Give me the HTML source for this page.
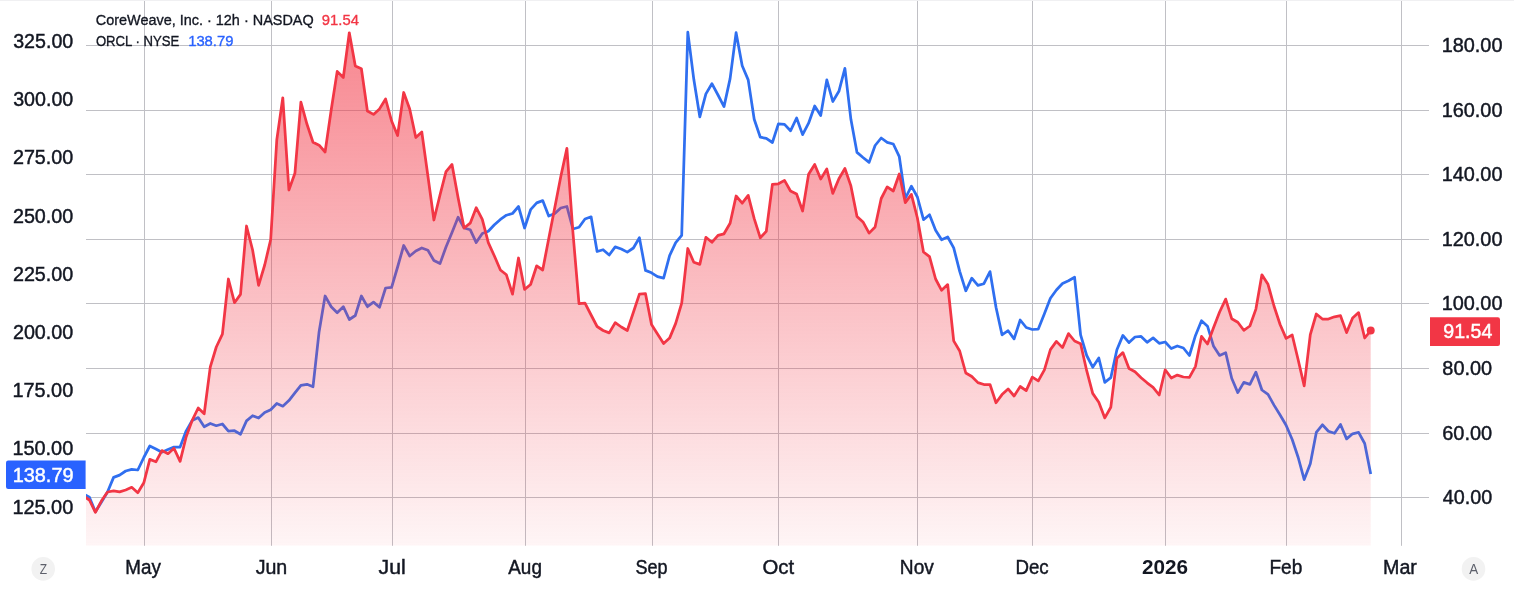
<!DOCTYPE html>
<html><head><meta charset="utf-8"><style>
html,body{margin:0;padding:0;background:#fff;}
body{width:1514px;height:589px;overflow:hidden;position:relative;font-family:"Liberation Sans",sans-serif;}
svg{position:absolute;left:0;top:0;will-change:transform;}
.ax{font-family:"Liberation Sans",sans-serif;font-size:20px;fill:#131722;stroke:#131722;stroke-width:0.45px;}
.lg{font-family:"Liberation Sans",sans-serif;font-size:15.4px;fill:#131722;stroke:#131722;stroke-width:0.35px;}
.b{font-weight:bold;stroke-width:0px;}
.bt{font-family:"Liberation Sans",sans-serif;font-size:14px;fill:#5d606b;}
</style></head><body>
<svg width="1514" height="589" viewBox="0 0 1514 589">
<defs>
<linearGradient id="fg" x1="0" y1="32" x2="0" y2="545.8" gradientUnits="userSpaceOnUse">
<stop offset="0" stop-color="#f23645" stop-opacity="0.6"/>
<stop offset="1" stop-color="#f23645" stop-opacity="0.05"/>
</linearGradient>
<clipPath id="cp"><rect x="86" y="1" width="1343" height="544.8"/></clipPath>
</defs>
<rect x="0" y="0" width="1514" height="1" fill="#f0f0f2"/>
<g stroke="#c0c0c5" stroke-width="1" fill="none"><line x1="86" y1="45.5" x2="1429" y2="45.5"/><line x1="86" y1="110.5" x2="1429" y2="110.5"/><line x1="86" y1="174.5" x2="1429" y2="174.5"/><line x1="86" y1="239.5" x2="1429" y2="239.5"/><line x1="86" y1="303.5" x2="1429" y2="303.5"/><line x1="86" y1="368.5" x2="1429" y2="368.5"/><line x1="86" y1="433.5" x2="1429" y2="433.5"/><line x1="86" y1="497.5" x2="1429" y2="497.5"/><line x1="144.5" y1="1" x2="144.5" y2="545.8"/><line x1="271.5" y1="1" x2="271.5" y2="545.8"/><line x1="392.5" y1="1" x2="392.5" y2="545.8"/><line x1="525.5" y1="1" x2="525.5" y2="545.8"/><line x1="652.5" y1="1" x2="652.5" y2="545.8"/><line x1="778.5" y1="1" x2="778.5" y2="545.8"/><line x1="917.5" y1="1" x2="917.5" y2="545.8"/><line x1="1032.5" y1="1" x2="1032.5" y2="545.8"/><line x1="1165.5" y1="1" x2="1165.5" y2="545.8"/><line x1="1286.5" y1="1" x2="1286.5" y2="545.8"/><line x1="1401.5" y1="1" x2="1401.5" y2="545.8"/></g>
<g clip-path="url(#cp)">
<path d="M83.4,494.0 L89.4,497.3 L95.4,511.8 L101.5,502.0 L107.5,492.0 L113.6,477.4 L119.6,475.1 L125.7,471.0 L131.7,469.4 L137.8,470.0 L143.8,457.5 L149.8,446.0 L155.9,449.0 L161.9,452.2 L168.0,449.6 L174.0,447.1 L180.1,447.1 L186.1,431.1 L192.2,420.4 L198.2,417.6 L204.2,426.8 L210.3,423.5 L216.3,425.7 L222.4,424.0 L228.4,431.1 L234.5,430.7 L240.5,434.2 L246.5,420.9 L252.6,415.7 L258.6,418.0 L264.7,412.5 L270.7,409.7 L276.8,403.5 L282.8,406.2 L288.9,400.6 L294.9,392.9 L300.9,385.3 L307.0,384.3 L313.0,386.8 L319.1,331.7 L325.1,296.0 L331.2,306.7 L337.2,312.8 L343.3,306.7 L349.3,319.5 L355.3,315.5 L361.4,296.0 L367.4,306.7 L373.5,302.1 L379.5,307.3 L385.6,288.0 L391.6,287.4 L397.6,267.0 L403.7,245.5 L409.7,256.0 L415.8,251.0 L421.8,248.0 L427.9,250.3 L433.9,260.5 L440.0,263.6 L446.0,247.0 L452.0,232.5 L458.1,217.2 L464.1,228.0 L470.2,229.7 L476.2,242.6 L482.3,233.5 L488.3,231.3 L494.4,224.8 L500.4,219.4 L506.4,215.2 L512.5,213.5 L518.5,206.5 L524.6,228.0 L530.6,209.7 L536.7,202.9 L542.7,200.6 L548.7,216.1 L554.8,213.5 L560.8,208.0 L566.9,206.5 L572.9,229.0 L579.0,227.2 L585.0,219.0 L591.1,216.8 L597.1,251.5 L603.1,249.7 L609.2,255.0 L615.2,246.9 L621.3,249.0 L627.3,252.1 L633.4,248.0 L639.4,237.8 L645.5,270.4 L651.5,272.8 L657.5,276.6 L663.6,278.2 L669.6,255.6 L675.7,242.6 L681.7,235.4 L687.8,32.2 L693.8,79.3 L699.8,116.8 L705.9,93.9 L711.9,83.7 L718.0,95.0 L724.0,106.6 L730.1,78.6 L736.1,32.7 L742.2,65.8 L748.2,79.9 L754.2,119.3 L760.3,137.2 L766.3,138.4 L772.4,142.5 L778.4,123.9 L784.5,124.4 L790.5,130.8 L796.6,118.0 L802.6,134.6 L808.6,123.2 L814.7,106.0 L820.7,115.5 L826.8,79.9 L832.8,101.5 L838.9,91.3 L844.9,68.4 L850.9,119.3 L857.0,152.4 L863.0,157.5 L869.1,162.4 L875.1,145.5 L881.2,138.0 L887.2,142.4 L893.3,144.0 L899.3,156.7 L905.3,198.5 L911.4,186.2 L917.4,197.0 L923.5,219.7 L929.5,214.7 L935.6,230.3 L941.6,239.8 L947.7,237.0 L953.7,247.9 L959.7,271.3 L965.8,290.8 L971.8,278.2 L977.9,285.4 L983.9,283.7 L990.0,271.6 L996.0,307.3 L1002.0,334.8 L1008.1,330.7 L1014.1,338.9 L1020.2,320.0 L1026.2,327.5 L1032.3,329.5 L1038.3,329.1 L1044.4,313.8 L1050.4,298.2 L1056.4,290.0 L1062.5,283.5 L1068.5,280.8 L1074.6,277.3 L1080.6,334.8 L1086.7,355.5 L1092.7,367.2 L1098.8,358.0 L1104.8,382.4 L1110.8,377.7 L1116.9,349.8 L1122.9,335.4 L1129.0,342.6 L1135.0,337.0 L1141.1,336.4 L1147.1,342.3 L1153.1,337.9 L1159.2,343.3 L1165.2,342.0 L1171.3,348.6 L1177.3,346.0 L1183.4,348.0 L1189.4,355.5 L1195.5,335.4 L1201.5,320.7 L1207.5,326.2 L1213.6,346.3 L1219.6,355.4 L1225.7,352.7 L1231.7,378.3 L1237.8,392.6 L1243.8,382.4 L1249.9,384.4 L1255.9,372.2 L1261.9,390.0 L1268.0,394.4 L1274.0,405.1 L1280.1,415.0 L1286.1,425.2 L1292.2,439.5 L1298.2,457.5 L1304.2,479.6 L1310.3,463.8 L1316.3,432.4 L1322.4,424.8 L1328.4,431.2 L1334.5,433.3 L1340.5,424.5 L1346.6,438.9 L1352.6,433.8 L1358.6,432.4 L1364.7,443.5 L1370.7,474.0" fill="none" stroke="#2f6ff0" stroke-width="2.75" stroke-linejoin="round"/>
<path d="M83.4,496.0 L89.4,500.0 L95.4,512.3 L101.5,500.8 L107.5,492.0 L113.6,490.9 L119.6,491.9 L125.7,490.0 L131.7,487.3 L137.8,492.7 L143.8,482.8 L149.8,459.4 L155.9,461.8 L161.9,450.6 L168.0,453.7 L174.0,448.3 L180.1,461.3 L186.1,437.0 L192.2,420.4 L198.2,408.0 L204.2,413.8 L210.3,366.9 L216.3,347.0 L222.4,334.2 L228.4,279.0 L234.5,302.7 L240.5,294.4 L246.5,226.0 L252.6,250.0 L258.6,285.3 L264.7,265.0 L270.7,239.5 L276.8,139.8 L282.8,97.8 L288.9,190.0 L294.9,173.3 L300.9,102.2 L307.0,124.3 L313.0,142.3 L319.1,145.2 L325.1,152.0 L331.2,110.0 L337.2,71.4 L343.3,77.5 L349.3,32.8 L355.3,66.0 L361.4,68.7 L367.4,111.0 L373.5,114.4 L379.5,108.9 L385.6,99.0 L391.6,121.0 L397.6,135.5 L403.7,92.5 L409.7,109.0 L415.8,137.5 L421.8,132.0 L427.9,176.0 L433.9,220.0 L440.0,195.0 L446.0,171.6 L452.0,164.5 L458.1,197.7 L464.1,228.0 L470.2,223.2 L476.2,207.7 L482.3,219.4 L488.3,242.6 L494.4,256.0 L500.4,270.0 L506.4,274.8 L512.5,294.2 L518.5,258.0 L524.6,289.4 L530.6,284.5 L536.7,265.8 L542.7,270.0 L548.7,238.7 L554.8,207.6 L560.8,176.5 L566.9,148.4 L572.9,232.0 L579.0,303.6 L585.0,303.2 L591.1,315.0 L597.1,326.5 L603.1,330.5 L609.2,332.9 L615.2,322.7 L621.3,327.0 L627.3,330.5 L633.4,312.2 L639.4,294.1 L645.5,293.7 L651.5,324.6 L657.5,334.0 L663.6,343.6 L669.6,338.1 L675.7,323.4 L681.7,303.2 L687.8,248.5 L693.8,262.3 L699.8,264.4 L705.9,237.3 L711.9,242.3 L718.0,235.4 L724.0,233.8 L730.1,223.2 L736.1,196.0 L742.2,203.2 L748.2,195.4 L754.2,218.7 L760.3,237.8 L766.3,231.3 L772.4,184.4 L778.4,183.8 L784.5,180.4 L790.5,191.0 L796.6,194.0 L802.6,211.0 L808.6,174.2 L814.7,164.5 L820.7,179.1 L826.8,169.0 L832.8,193.4 L838.9,178.7 L844.9,168.5 L850.9,185.9 L857.0,216.4 L863.0,221.9 L869.1,233.1 L875.1,227.0 L881.2,198.5 L887.2,186.9 L893.3,191.0 L899.3,174.0 L905.3,202.6 L911.4,194.4 L917.4,218.0 L923.5,252.0 L929.5,256.7 L935.6,279.0 L941.6,290.3 L947.7,284.6 L953.7,340.9 L959.7,351.0 L965.8,373.0 L971.8,376.5 L977.9,382.6 L983.9,384.5 L990.0,384.5 L996.0,402.8 L1002.0,394.6 L1008.1,388.9 L1014.1,396.0 L1020.2,386.5 L1026.2,390.6 L1032.3,377.1 L1038.3,380.9 L1044.4,369.8 L1050.4,349.6 L1056.4,341.4 L1062.5,347.6 L1068.5,333.6 L1074.6,341.0 L1080.6,343.7 L1086.7,370.7 L1092.7,393.4 L1098.8,402.2 L1104.8,417.9 L1110.8,407.3 L1116.9,358.3 L1122.9,352.6 L1129.0,368.5 L1135.0,371.7 L1141.1,377.7 L1147.1,382.8 L1153.1,387.3 L1159.2,395.0 L1165.2,369.8 L1171.3,378.0 L1177.3,375.1 L1183.4,377.0 L1189.4,377.3 L1195.5,366.3 L1201.5,336.4 L1207.5,344.0 L1213.6,327.5 L1219.6,312.0 L1225.7,299.1 L1231.7,318.7 L1237.8,322.2 L1243.8,330.3 L1249.9,326.0 L1255.9,309.1 L1261.9,274.8 L1268.0,284.3 L1274.0,306.0 L1280.1,324.5 L1286.1,338.4 L1292.2,335.0 L1298.2,360.0 L1304.2,385.9 L1310.3,334.7 L1316.3,314.0 L1322.4,319.0 L1328.4,319.0 L1334.5,316.8 L1340.5,315.7 L1346.6,332.6 L1352.6,318.0 L1358.6,312.6 L1364.7,338.0 L1370.7,330.6 L1370.7,545.8 L83.4,545.8 Z" fill="url(#fg)" stroke="none"/>
<path d="M83.4,496.0 L89.4,500.0 L95.4,512.3 L101.5,500.8 L107.5,492.0 L113.6,490.9 L119.6,491.9 L125.7,490.0 L131.7,487.3 L137.8,492.7 L143.8,482.8 L149.8,459.4 L155.9,461.8 L161.9,450.6 L168.0,453.7 L174.0,448.3 L180.1,461.3 L186.1,437.0 L192.2,420.4 L198.2,408.0 L204.2,413.8 L210.3,366.9 L216.3,347.0 L222.4,334.2 L228.4,279.0 L234.5,302.7 L240.5,294.4 L246.5,226.0 L252.6,250.0 L258.6,285.3 L264.7,265.0 L270.7,239.5 L276.8,139.8 L282.8,97.8 L288.9,190.0 L294.9,173.3 L300.9,102.2 L307.0,124.3 L313.0,142.3 L319.1,145.2 L325.1,152.0 L331.2,110.0 L337.2,71.4 L343.3,77.5 L349.3,32.8 L355.3,66.0 L361.4,68.7 L367.4,111.0 L373.5,114.4 L379.5,108.9 L385.6,99.0 L391.6,121.0 L397.6,135.5 L403.7,92.5 L409.7,109.0 L415.8,137.5 L421.8,132.0 L427.9,176.0 L433.9,220.0 L440.0,195.0 L446.0,171.6 L452.0,164.5 L458.1,197.7 L464.1,228.0 L470.2,223.2 L476.2,207.7 L482.3,219.4 L488.3,242.6 L494.4,256.0 L500.4,270.0 L506.4,274.8 L512.5,294.2 L518.5,258.0 L524.6,289.4 L530.6,284.5 L536.7,265.8 L542.7,270.0 L548.7,238.7 L554.8,207.6 L560.8,176.5 L566.9,148.4 L572.9,232.0 L579.0,303.6 L585.0,303.2 L591.1,315.0 L597.1,326.5 L603.1,330.5 L609.2,332.9 L615.2,322.7 L621.3,327.0 L627.3,330.5 L633.4,312.2 L639.4,294.1 L645.5,293.7 L651.5,324.6 L657.5,334.0 L663.6,343.6 L669.6,338.1 L675.7,323.4 L681.7,303.2 L687.8,248.5 L693.8,262.3 L699.8,264.4 L705.9,237.3 L711.9,242.3 L718.0,235.4 L724.0,233.8 L730.1,223.2 L736.1,196.0 L742.2,203.2 L748.2,195.4 L754.2,218.7 L760.3,237.8 L766.3,231.3 L772.4,184.4 L778.4,183.8 L784.5,180.4 L790.5,191.0 L796.6,194.0 L802.6,211.0 L808.6,174.2 L814.7,164.5 L820.7,179.1 L826.8,169.0 L832.8,193.4 L838.9,178.7 L844.9,168.5 L850.9,185.9 L857.0,216.4 L863.0,221.9 L869.1,233.1 L875.1,227.0 L881.2,198.5 L887.2,186.9 L893.3,191.0 L899.3,174.0 L905.3,202.6 L911.4,194.4 L917.4,218.0 L923.5,252.0 L929.5,256.7 L935.6,279.0 L941.6,290.3 L947.7,284.6 L953.7,340.9 L959.7,351.0 L965.8,373.0 L971.8,376.5 L977.9,382.6 L983.9,384.5 L990.0,384.5 L996.0,402.8 L1002.0,394.6 L1008.1,388.9 L1014.1,396.0 L1020.2,386.5 L1026.2,390.6 L1032.3,377.1 L1038.3,380.9 L1044.4,369.8 L1050.4,349.6 L1056.4,341.4 L1062.5,347.6 L1068.5,333.6 L1074.6,341.0 L1080.6,343.7 L1086.7,370.7 L1092.7,393.4 L1098.8,402.2 L1104.8,417.9 L1110.8,407.3 L1116.9,358.3 L1122.9,352.6 L1129.0,368.5 L1135.0,371.7 L1141.1,377.7 L1147.1,382.8 L1153.1,387.3 L1159.2,395.0 L1165.2,369.8 L1171.3,378.0 L1177.3,375.1 L1183.4,377.0 L1189.4,377.3 L1195.5,366.3 L1201.5,336.4 L1207.5,344.0 L1213.6,327.5 L1219.6,312.0 L1225.7,299.1 L1231.7,318.7 L1237.8,322.2 L1243.8,330.3 L1249.9,326.0 L1255.9,309.1 L1261.9,274.8 L1268.0,284.3 L1274.0,306.0 L1280.1,324.5 L1286.1,338.4 L1292.2,335.0 L1298.2,360.0 L1304.2,385.9 L1310.3,334.7 L1316.3,314.0 L1322.4,319.0 L1328.4,319.0 L1334.5,316.8 L1340.5,315.7 L1346.6,332.6 L1352.6,318.0 L1358.6,312.6 L1364.7,338.0 L1370.7,330.6" fill="none" stroke="#f23645" stroke-width="2.75" stroke-linejoin="round"/>
<circle cx="1370.7" cy="330.6" r="4" fill="#f23645"/>
</g>
<text x="13.15" y="47.93" textLength="60.12" lengthAdjust="spacingAndGlyphs" class="ax">325.00</text><text x="13.15" y="106.13" textLength="60.12" lengthAdjust="spacingAndGlyphs" class="ax">300.00</text><text x="12.91" y="164.33" textLength="60.36" lengthAdjust="spacingAndGlyphs" class="ax">275.00</text><text x="12.91" y="222.53" textLength="60.36" lengthAdjust="spacingAndGlyphs" class="ax">250.00</text><text x="12.91" y="280.73" textLength="60.36" lengthAdjust="spacingAndGlyphs" class="ax">225.00</text><text x="12.91" y="338.93" textLength="60.36" lengthAdjust="spacingAndGlyphs" class="ax">200.00</text><text x="12.38" y="397.13" textLength="60.89" lengthAdjust="spacingAndGlyphs" class="ax">175.00</text><text x="12.38" y="455.33" textLength="60.89" lengthAdjust="spacingAndGlyphs" class="ax">150.00</text><text x="12.38" y="513.53" textLength="60.89" lengthAdjust="spacingAndGlyphs" class="ax">125.00</text><text x="1441.69" y="51.98" textLength="60.79" lengthAdjust="spacingAndGlyphs" class="ax">180.00</text><text x="1441.69" y="116.98" textLength="60.79" lengthAdjust="spacingAndGlyphs" class="ax">160.00</text><text x="1441.69" y="180.98" textLength="60.79" lengthAdjust="spacingAndGlyphs" class="ax">140.00</text><text x="1441.69" y="245.98" textLength="60.79" lengthAdjust="spacingAndGlyphs" class="ax">120.00</text><text x="1441.69" y="309.98" textLength="60.79" lengthAdjust="spacingAndGlyphs" class="ax">100.00</text><text x="1442.33" y="374.98" textLength="49.84" lengthAdjust="spacingAndGlyphs" class="ax">80.00</text><text x="1442.19" y="439.98" textLength="49.99" lengthAdjust="spacingAndGlyphs" class="ax">60.00</text><text x="1442.75" y="503.98" textLength="49.42" lengthAdjust="spacingAndGlyphs" class="ax">40.00</text><text x="125.35" y="574.20" textLength="35.58" lengthAdjust="spacingAndGlyphs" class="ax">May</text><text x="255.69" y="574.20" textLength="31.58" lengthAdjust="spacingAndGlyphs" class="ax">Jun</text><text x="378.57" y="574.20" textLength="27.15" lengthAdjust="spacingAndGlyphs" class="ax">Jul</text><text x="508.26" y="574.20" textLength="33.66" lengthAdjust="spacingAndGlyphs" class="ax">Aug</text><text x="635.38" y="574.20" textLength="32.08" lengthAdjust="spacingAndGlyphs" class="ax">Sep</text><text x="762.44" y="574.20" textLength="31.61" lengthAdjust="spacingAndGlyphs" class="ax">Oct</text><text x="899.83" y="574.20" textLength="34.04" lengthAdjust="spacingAndGlyphs" class="ax">Nov</text><text x="1015.47" y="574.20" textLength="33.23" lengthAdjust="spacingAndGlyphs" class="ax">Dec</text><text x="1141.98" y="574.20" textLength="46.07" lengthAdjust="spacingAndGlyphs" class="ax b">2026</text><text x="1269.44" y="574.20" textLength="32.87" lengthAdjust="spacingAndGlyphs" class="ax">Feb</text><text x="1383.09" y="574.20" textLength="33.84" lengthAdjust="spacingAndGlyphs" class="ax">Mar</text><text x="95.77" y="24.90" textLength="217.92" lengthAdjust="spacingAndGlyphs" class="lg">CoreWeave, Inc. · 12h · NASDAQ</text><text x="321.80" y="24.90" textLength="37.13" lengthAdjust="spacingAndGlyphs" class="lg" style="fill:#f23645;stroke:#f23645">91.54</text><text x="95.88" y="45.70" textLength="83.48" lengthAdjust="spacingAndGlyphs" class="lg">ORCL · NYSE</text><text x="188.17" y="45.70" textLength="45.23" lengthAdjust="spacingAndGlyphs" class="lg" style="fill:#2962ff;stroke:#2962ff">138.79</text>
<path d="M1430,317.2 H1497.8 Q1500,317.2 1500,319.4 V343.8 Q1500,346 1497.8,346 H1430 Z" fill="#f23645"/><text x="1443.28" y="338.00" textLength="49.09" lengthAdjust="spacingAndGlyphs" class="ax" style="fill:#ffffff;stroke:#ffffff">91.54</text><path d="M85.6,460.6 H8.2 Q6,460.6 6,462.8 V486.8 Q6,489 8.2,489 H85.6 Z" fill="#2962ff"/><text x="12.68" y="481.50" textLength="60.86" lengthAdjust="spacingAndGlyphs" class="ax" style="fill:#ffffff;stroke:#ffffff">138.79</text>
<circle cx="43.2" cy="568.9" r="11.8" fill="#f2f2f2"/><circle cx="1473.5" cy="568.9" r="11.8" fill="#f2f2f2"/><text x="39.82" y="573.80" textLength="7.36" lengthAdjust="spacingAndGlyphs" class="bt">Z</text><text x="1469.17" y="573.80" textLength="8.95" lengthAdjust="spacingAndGlyphs" class="bt">A</text>
</svg>
</body></html>
